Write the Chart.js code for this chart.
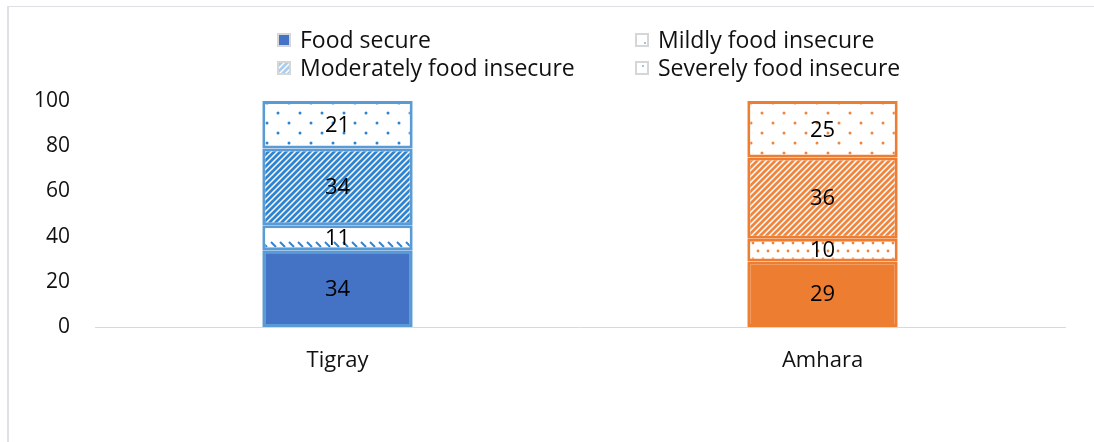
<!DOCTYPE html>
<html>
<head>
<meta charset="utf-8">
<script src="https://cdn.jsdelivr.net/npm/chart.js@4"></script>
<style>
  html, body { margin: 0; padding: 0; background: #fff; }
  #wrap { position: relative; width: 1094px; height: 442px; overflow: hidden; }
  #frame { position: absolute; left: 7px; top: 6px; right: -10px; bottom: -10px;
           border-top: 1px solid #dde1e6; border-left: 2px solid #dde1e6; }
  #chart { position: absolute; left: 0; top: 0; }
  .legend { position: absolute; font-family: "Open Sans", sans-serif; font-size: 23px;
            color: #111; line-height: 28px; }
  .legend div { position: absolute; white-space: nowrap; }
  .legend canvas { position: absolute; left: 0; top: 7px; }
  .legend span { position: absolute; left: 23px; top: -1px; }
</style>
</head>
<body>
<div id="wrap">
  <div id="frame"></div>
  <canvas id="chart" width="1094" height="442"></canvas>
  <div class="legend" id="legend"></div>
</div>
<script>
// regions and food security shares (%)
const regions = ['Tigray', 'Amhara'];
const seriesNames = ['Food secure', 'Mildly food insecure', 'Moderately food insecure', 'Severely food insecure'];
const foodSecure = [34, 29];
const mildlyInsecure = [11, 10];
const moderatelyInsecure = [34, 36];
const severelyInsecure = [21, 25];
const yTicks = [0, 20, 40, 60, 80, 100];

const BLUE = '#4472C4', BLUE_EDGE = '#5B9BD5', BLUE_PAT = '#2f84d0';
const ORANGE = '#ED7D31', ORANGE_PAT = '#ef8640';
const FONT = '"Open Sans", sans-serif';

function tile(w, h, draw) {
  const c = document.createElement('canvas');
  c.width = w; c.height = h;
  const g = c.getContext('2d');
  g.fillStyle = '#fff';
  g.fillRect(0, 0, w, h);
  draw(g);
  return c;
}

// wide upward diagonal
function stripes(color) {
  return tile(6, 6, g => {
    g.strokeStyle = color; g.lineWidth = 2.8;
    g.beginPath();
    g.moveTo(-1, 7); g.lineTo(7, -1);
    g.moveTo(-4, 4); g.lineTo(4, -4);
    g.moveTo(2, 10); g.lineTo(10, 2);
    g.stroke();
  });
}

// staggered dot grid
function dots(color, w, h, r) {
  return tile(w, h, g => {
    g.fillStyle = color;
    g.beginPath(); g.arc(3, 3, r, 0, Math.PI * 2); g.fill();
    g.beginPath(); g.arc(3 + w / 2, 3 + h / 2, r, 0, Math.PI * 2); g.fill();
  });
}

// short downward dashes
function dashes(color) {
  return tile(9, 20, g => {
    g.strokeStyle = color; g.lineWidth = 2;
    g.beginPath(); g.moveTo(1, 2); g.lineTo(6, 7); g.stroke();
  });
}

const ctx = document.getElementById('chart').getContext('2d');
const pat = c => ctx.createPattern(c, 'repeat');

const fills = [
  [BLUE, ORANGE],
  [pat(dashes(BLUE_PAT)), pat(dots(ORANGE_PAT, 10, 16, 1.4))],
  [pat(stripes(BLUE_PAT)), pat(stripes(ORANGE_PAT))],
  [pat(dots(BLUE_PAT, 22, 20, 1.5)), pat(dots(ORANGE_PAT, 22, 20, 1.5))]
];
const values = [foodSecure, mildlyInsecure, moderatelyInsecure, severelyInsecure];

const segmentLabels = {
  id: 'segmentLabels',
  afterDatasetsDraw(chart) {
    const g = chart.ctx;
    g.save();
    g.font = '22px ' + FONT;
    g.fillStyle = '#000';
    g.textAlign = 'center';
    g.textBaseline = 'middle';
    chart.data.datasets.forEach((ds, i) => {
      chart.getDatasetMeta(i).data.forEach((bar, j) => {
        g.fillText(ds.data[j], bar.x, (bar.y + bar.base) / 2 + 1);
      });
    });
    g.restore();
  }
};

new Chart(ctx, {
  type: 'bar',
  data: {
    labels: regions,
    datasets: seriesNames.map((name, i) => ({
      label: name,
      data: values[i],
      backgroundColor: fills[i],
      borderColor: [BLUE_EDGE, ORANGE],
      borderWidth: 3,
      borderSkipped: false,
      barPercentage: 0.31,
      categoryPercentage: 1
    }))
  },
  options: {
    responsive: false,
    animation: false,
    layout: { padding: { left: 0, right: 29, top: 101, bottom: 0 } },
    plugins: { legend: { display: false }, tooltip: { enabled: false } },
    scales: {
      x: {
        stacked: true,
        grid: { display: false, drawTicks: false },
        border: { display: true, color: '#d9d9d9', width: 1 },
        ticks: { color: '#111', padding: 21, font: { family: FONT, size: 22 } },
        afterFit: s => { s.height = 115; }
      },
      y: {
        stacked: true,
        min: 0, max: 100,
        afterBuildTicks: s => { s.ticks = yTicks.map(v => ({ value: v })); },
        grid: { display: false, drawTicks: false },
        border: { display: false },
        ticks: { color: '#111', padding: 25, font: { family: FONT, size: 21 } },
        afterFit: s => { s.width = 95; }
      }
    }
  },
  plugins: [segmentLabels]
});

// two-column legend with pattern swatches
const legendPos = [[277, 26], [635, 26], [277, 54], [635, 54]];
const swatchFill = [
  g => { g.fillStyle = BLUE; g.fillRect(2, 2, 10, 10); },
  g => { g.fillStyle = '#9cc3e8'; g.fillRect(9, 9, 2, 2); },
  g => { g.fillStyle = g.createPattern(stripes('#a9cdef'), 'repeat'); g.fillRect(2, 2, 10, 10); },
  g => { g.fillStyle = '#9cc3e8'; g.fillRect(7, 4, 2, 2); }
];
const legend = document.getElementById('legend');
seriesNames.forEach((name, s) => {
  const item = document.createElement('div');
  item.style.left = legendPos[s][0] + 'px';
  item.style.top = legendPos[s][1] + 'px';
  const sw = document.createElement('canvas');
  sw.width = 14; sw.height = 14;
  const g = sw.getContext('2d');
  g.fillStyle = '#d6d6d6'; g.fillRect(0, 0, 14, 14);
  g.fillStyle = '#fff'; g.fillRect(2, 2, 10, 10);
  swatchFill[s](g);
  const txt = document.createElement('span');
  txt.textContent = name;
  item.appendChild(sw);
  item.appendChild(txt);
  legend.appendChild(item);
});
</script>
</body>
</html>
